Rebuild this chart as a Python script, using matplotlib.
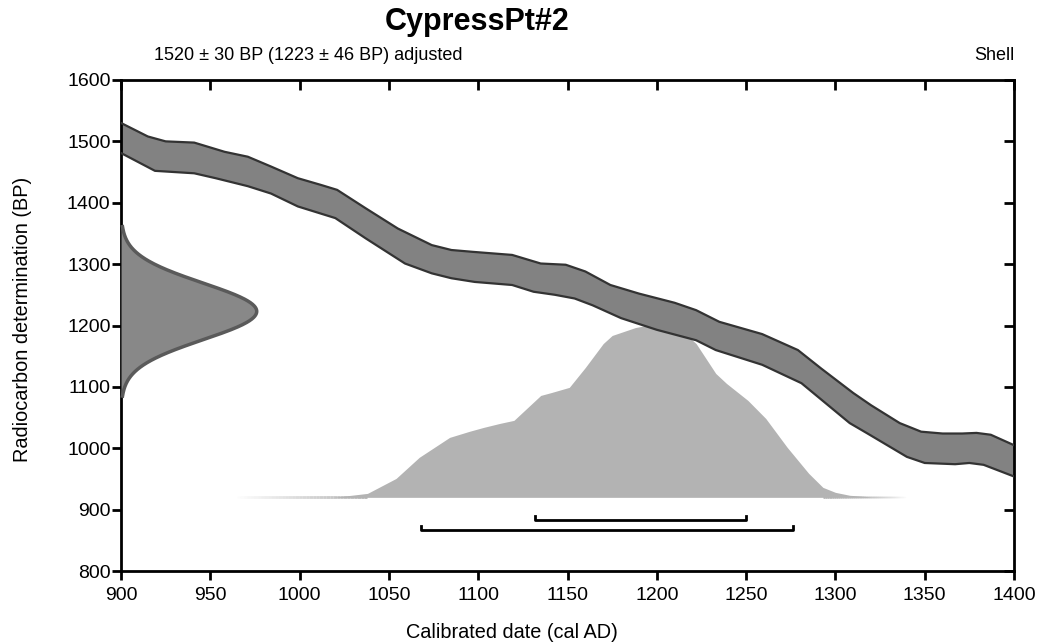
import numpy as np
import matplotlib
matplotlib.use('Agg')
import matplotlib.pyplot as plt
from matplotlib.collections import LineCollection

plt.rcParams['font.family'] = ['Liberation Sans', 'DejaVu Sans']

# radiocarbon measurement (adjusted)
meas_bp = 1223
meas_err = 46

# calibration curve band, edges
upper_years = [900, 915, 925, 941, 958, 971, 984, 999, 1012, 1021, 1037, 1055, 1074, 1085, 1097,
               1119, 1135, 1149, 1160, 1174, 1190, 1210, 1222, 1235, 1259, 1279, 1292, 1310, 1320,
               1336, 1348, 1360, 1371, 1379, 1387, 1400]
upper_bp = [1530, 1508, 1500, 1498, 1483, 1475, 1459, 1440, 1429, 1421, 1391, 1358, 1331, 1323, 1320,
            1315, 1301, 1299, 1288, 1266, 1252, 1237, 1225, 1206, 1186, 1160, 1130, 1090, 1070,
            1041, 1027, 1024, 1024, 1025, 1022, 1005]
lower_years = [900, 919, 941, 953, 971, 984, 999, 1020, 1037, 1059, 1074, 1085, 1098, 1119, 1131,
               1143, 1154, 1164, 1180, 1200, 1222, 1233, 1259, 1281, 1308, 1318, 1340, 1350, 1367,
               1375, 1383, 1400]
lower_bp = [1481, 1452, 1448, 1440, 1427, 1415, 1394, 1375, 1342, 1301, 1285, 1277, 1271, 1266, 1255,
            1250, 1244, 1233, 1212, 1193, 1176, 1160, 1136, 1106, 1041, 1024, 986, 976, 974,
            976, 973, 954]

# calibrated probability (relative)
dist_years = [963, 1019, 1038, 1054, 1067, 1084, 1095, 1103, 1112, 1120, 1135, 1141, 1151, 1160,
              1170, 1175, 1188, 1194, 1205, 1215, 1222, 1233, 1239, 1251, 1261, 1273, 1285, 1293,
              1300, 1308, 1320, 1340]
dist_prob = [0, 0, 0.023, 0.110, 0.233, 0.349, 0.384, 0.407, 0.430, 0.448, 0.593, 0.610, 0.640, 0.756,
             0.895, 0.942, 0.988, 1.0, 1.0, 0.96, 0.895, 0.721, 0.663, 0.564, 0.459, 0.291, 0.140, 0.058,
             0.029, 0.012, 0.003, 0]
dist_base = 920
dist_scale = 280

# highest posterior density ranges
range_68 = (1132, 1250)
range_95 = (1068, 1276)

fig = plt.figure(figsize=(10.37, 6.44), dpi=100)
ax = fig.add_axes([121/1037, 1-571/644, 893/1037, 491/644])
ax.set_xlim(900, 1400)
ax.set_ylim(800, 1600)

# calibrated distribution
dy = np.array(dist_years)
dp = np.array(dist_prob)
ax.fill_between(dy, dist_base, dist_base + dist_scale*dp, color='#b3b3b3', lw=0, zorder=1)
# faded tails along the base
for lo, hi in [(dy[0], dy[2]), (dy[-1], dy[-5])]:
    xs = np.linspace(lo, hi, 40)
    segs = [[(xs[i], dist_base+1), (xs[i+1], dist_base+1)] for i in range(len(xs)-1)]
    cols = [(0.7, 0.7, 0.7, a) for a in np.linspace(0, 1, len(segs))]
    ax.add_collection(LineCollection(segs, colors=cols, lw=2, zorder=1))

# calibration curve band
band_x = upper_years + lower_years[::-1]
band_y = upper_bp + lower_bp[::-1]
ax.fill(band_x, band_y, color='#828282', lw=0, zorder=2)
ax.plot(upper_years, upper_bp, color='#333333', lw=1.6, zorder=3, solid_joinstyle='round')
ax.plot(lower_years, lower_bp, color='#333333', lw=1.6, zorder=3, solid_joinstyle='round')

# measurement distribution on the y axis
yy = np.linspace(meas_bp - 3*meas_err, meas_bp + 3*meas_err, 300)
pdf = np.exp(-0.5*((yy - meas_bp)/meas_err)**2)
xx = 900 + 76*pdf
ax.fill_betweenx(yy, 900, xx, color='#888888', lw=0, zorder=4)
ax.plot(xx, yy, color='#5a5a5a', lw=2.5, zorder=5, clip_on=False)

# range brackets
for (a, b), yb in [(range_68, 883), (range_95, 867)]:
    ax.plot([a, a, b, b], [yb+6, yb, yb, yb+6], color='black', lw=2, zorder=5)

for s in ax.spines.values():
    s.set_linewidth(2)
ax.set_xticks(np.arange(900, 1401, 50))
ax.set_yticks(np.arange(800, 1601, 100))
ax.tick_params(axis='both', direction='out', length=6.5, width=2, labelsize=14)
ax.tick_params(axis='x', pad=5)
ax.tick_params(axis='y', pad=1)
ax.tick_params(which='both', top=True, right=True)
# inward ticks on top and right
for t in ax.xaxis.get_major_ticks():
    t.tick2line.set_marker(3)
    t.tick2line.set_markersize(7)
for t in ax.yaxis.get_major_ticks():
    t.tick2line.set_marker(0)
    t.tick2line.set_markersize(7)

ax.set_xlabel('Calibrated date (cal AD)', fontsize=14.3)
ax.xaxis.label.set_va('center')
ax.xaxis.set_label_coords((512-121)/893, (571-633)/491)
ax.set_ylabel('Radiocarbon determination (BP)', fontsize=14.3)
ax.yaxis.label.set_va('center')
ax.yaxis.set_label_coords((23-121)/893, (571-319)/491)

fig.text(477/1037, 1-22/644, 'CypressPt#2', ha='center', va='center', fontsize=22, fontweight='bold')
fig.text(154/1037, 1-55/644, '1520 \u00b1 30 BP (1223 \u00b1 46 BP) adjusted', ha='left', va='center', fontsize=13)
fig.text(1014/1037, 1-55/644, 'Shell', ha='right', va='center', fontsize=13)

fig.savefig('out.png', dpi=100)
